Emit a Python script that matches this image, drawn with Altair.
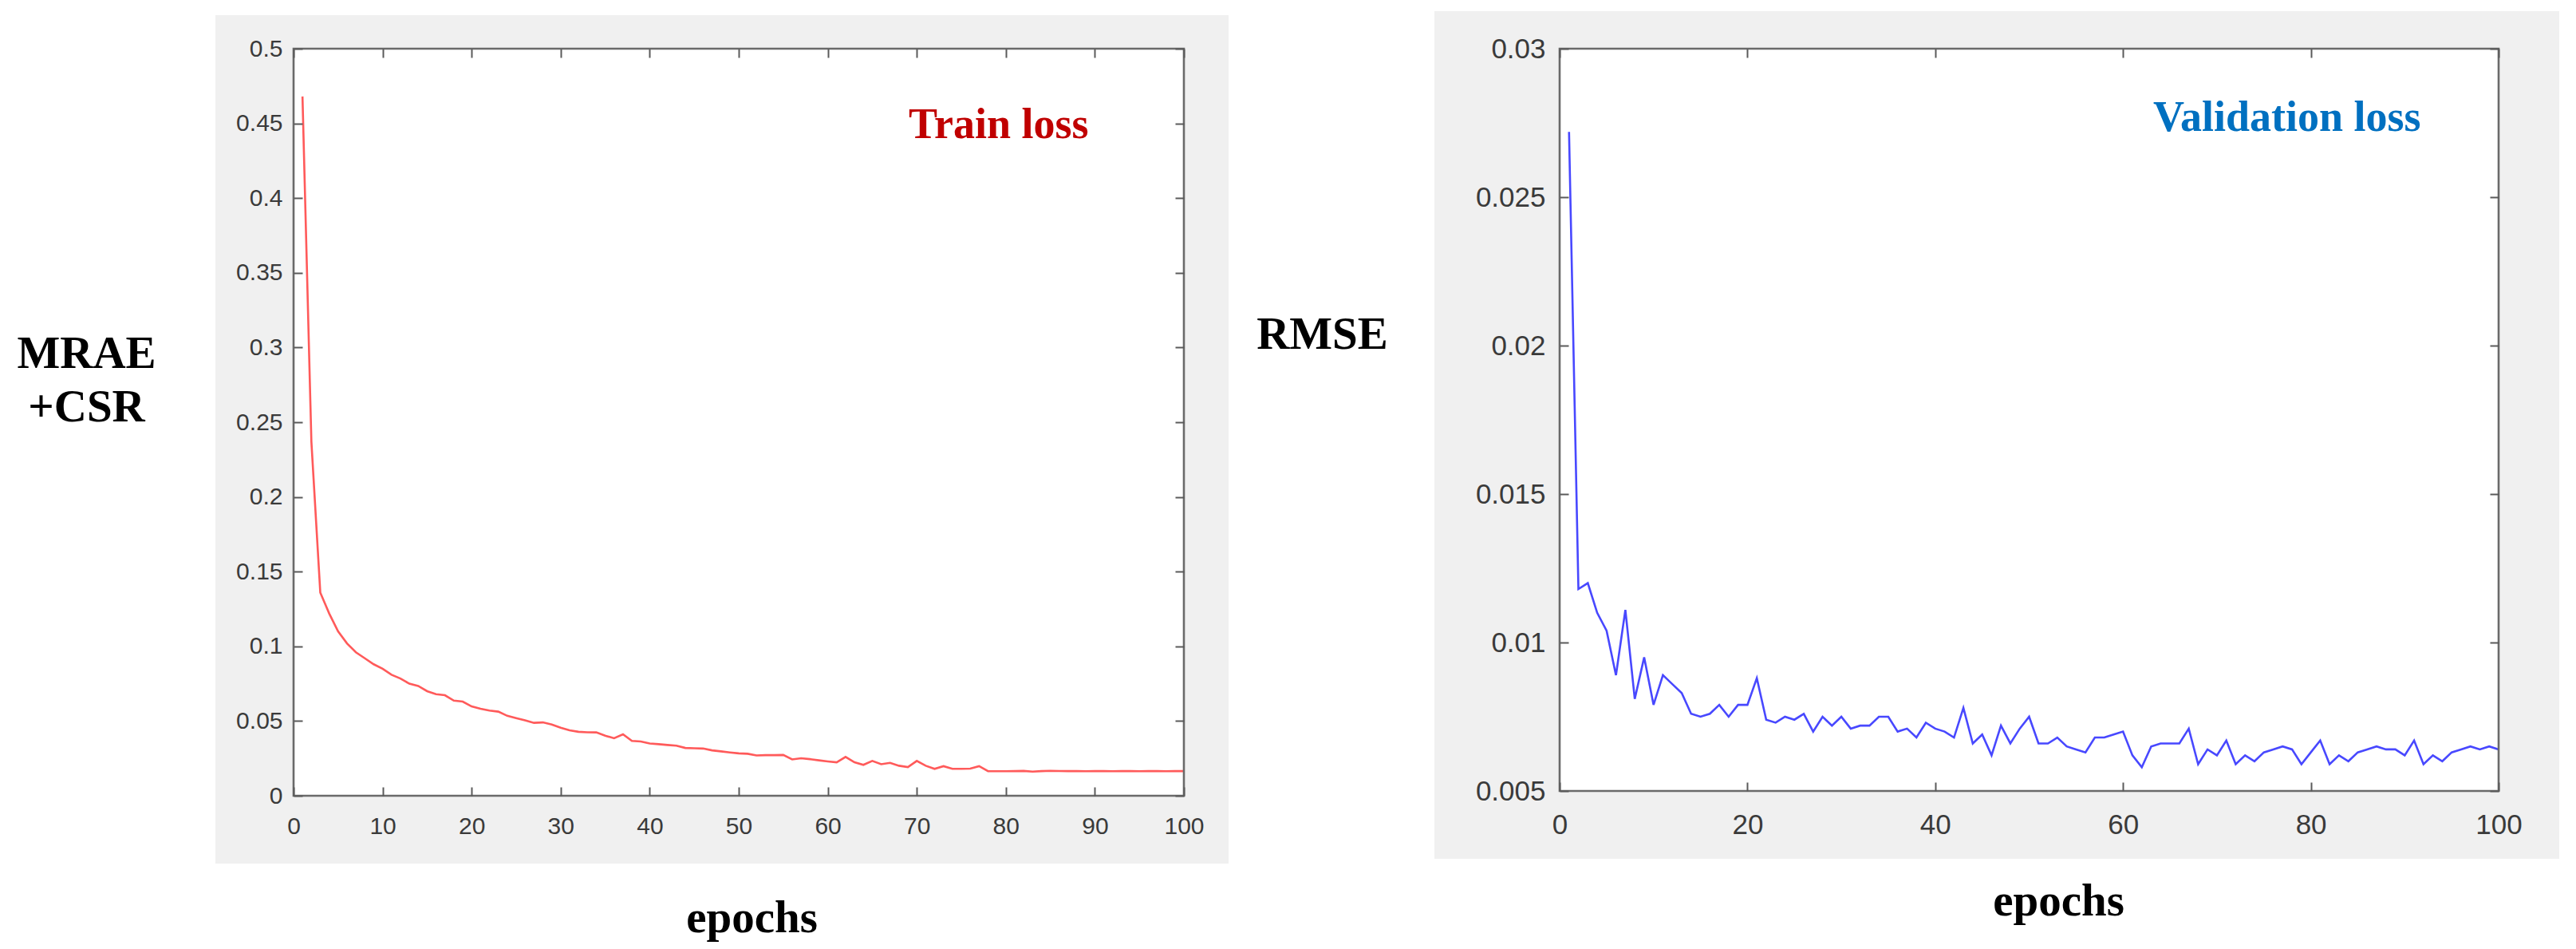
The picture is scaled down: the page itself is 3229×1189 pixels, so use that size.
import altair as alt
import pandas as pd

# ---------------- data ----------------
epochs = list(range(1, 101))

train_loss = [
    0.468, 0.237, 0.136, 0.122, 0.110, 0.102, 0.096, 0.092, 0.088, 0.085,
    0.081, 0.0785, 0.075, 0.0735, 0.070, 0.068, 0.0673, 0.0637, 0.063, 0.0598,
    0.0582, 0.057, 0.0563, 0.0535, 0.052, 0.0505, 0.0488, 0.0491, 0.0477, 0.0455,
    0.0438, 0.0428, 0.0425, 0.0424, 0.0402, 0.0385, 0.0411, 0.0367, 0.0363, 0.0350,
    0.0345, 0.0340, 0.0335, 0.0320, 0.0318, 0.0316, 0.0304, 0.0297, 0.0290, 0.0284,
    0.0281, 0.0270, 0.0272, 0.0272, 0.0273, 0.0243, 0.0251, 0.0245, 0.0237, 0.0230,
    0.0224, 0.0260, 0.0224, 0.0207, 0.0233, 0.0211, 0.0220, 0.0201, 0.0192, 0.0233,
    0.0201, 0.0180, 0.0198, 0.0180, 0.0180, 0.0182, 0.0198, 0.0165, 0.0164, 0.0164,
    0.0165, 0.0166, 0.0162, 0.0165, 0.0167, 0.0166, 0.0165, 0.0165, 0.0164, 0.0165,
    0.0165, 0.0164, 0.0165, 0.0165, 0.0164, 0.0165, 0.0165, 0.0164, 0.0165, 0.0165,
]

val_loss = [
    0.0272, 0.0118, 0.0120, 0.0110, 0.0104, 0.0089, 0.0111, 0.0081, 0.0095, 0.0079,
    0.0089, 0.0086, 0.0083, 0.0076, 0.0075, 0.0076, 0.0079, 0.0075, 0.0079, 0.0079,
    0.0088, 0.0074, 0.0073, 0.0075, 0.0074, 0.0076, 0.0070, 0.0075, 0.0072, 0.0075,
    0.0071, 0.0072, 0.0072, 0.0075, 0.0075, 0.0070, 0.0071, 0.0068, 0.0073, 0.0071,
    0.0070, 0.0068, 0.0078, 0.0066, 0.0069, 0.0062, 0.0072, 0.0066, 0.0071, 0.0075,
    0.0066, 0.0066, 0.0068, 0.0065, 0.0064, 0.0063, 0.0068, 0.0068, 0.0069, 0.0070,
    0.0062, 0.0058, 0.0065, 0.0066, 0.0066, 0.0066, 0.0071, 0.0059, 0.0064, 0.0062,
    0.0067, 0.0059, 0.0062, 0.0060, 0.0063, 0.0064, 0.0065, 0.0064, 0.0059, 0.0063,
    0.0067, 0.0059, 0.0062, 0.0060, 0.0063, 0.0064, 0.0065, 0.0064, 0.0064, 0.0062,
    0.0067, 0.0059, 0.0062, 0.0060, 0.0063, 0.0064, 0.0065, 0.0064, 0.0065, 0.0064,
]

left_x_ticks = [0, 10, 20, 30, 40, 50, 60, 70, 80, 90, 100]
left_y_ticks = [0, 0.05, 0.1, 0.15, 0.2, 0.25, 0.3, 0.35, 0.4, 0.45, 0.5]
right_x_ticks = [0, 20, 40, 60, 80, 100]
right_y_ticks = [0.005, 0.01, 0.015, 0.02, 0.025, 0.03]

left_y_title = ["MRAE", "+CSR"]
right_y_title = "RMSE"
x_title = "epochs"
left_note = "Train loss"
right_note = "Validation loss"

# ---------------- style ----------------
SERIF = "Liberation Serif"
SANS = "Liberation Sans"
PANEL = "#f0f0f0"
FRAME = "#6a6a6a"
TICK = "#5a5a5a"
LABEL = "#3a3a3a"

one_row = pd.DataFrame({"k": [0]})


def panel(df, ycol, line_color, w, h, xdom, ydom, xvals, yvals,
          label_fs, ylab_pad, xlab_pad, yfmt,
          ytitle, ytitle_x, ytitle_y, xtitle_x, xtitle_y,
          gray, note, note_color, note_x, note_y):
    gx1, gx2, gy1, gy2 = gray
    x_scale = alt.Scale(domain=xdom, nice=False, zero=False)
    y_scale = alt.Scale(domain=ydom, nice=False, zero=False)

    bg = alt.Chart(one_row).mark_rect(color=PANEL).encode(
        x=alt.value(gx1), x2=alt.value(gx2), y=alt.value(gy1), y2=alt.value(gy2))
    plot_bg = alt.Chart(one_row).mark_rect(color="white").encode(
        x=alt.value(0), x2=alt.value(w), y=alt.value(0), y2=alt.value(h))

    x_lab_axis = alt.Axis(
        orient="bottom", values=xvals, format="d", labels=True, ticks=False, tickSize=0,
        domain=False, grid=False, labelFont=SANS, labelFontSize=label_fs,
        labelColor=LABEL, labelPadding=xlab_pad, labelFlush=False, labelOverlap=False,
        zindex=1, title=x_title, titleFont=SERIF, titleFontSize=57,
        titleFontWeight="bold", titleColor="black", titleX=xtitle_x, titleY=xtitle_y,
        titleAlign="center", titleBaseline="alphabetic", titleAngle=0)
    y_lab_axis = alt.Axis(
        orient="left", values=yvals, format=yfmt, labels=True, ticks=False, tickSize=0,
        domain=False, grid=False, labelFont=SANS, labelFontSize=label_fs,
        labelColor=LABEL, labelPadding=ylab_pad, labelFlush=False, labelOverlap=False,
        zindex=1, title=ytitle, titleFont=SERIF, titleFontSize=57,
        titleFontWeight="bold", titleColor="black", titleX=ytitle_x, titleY=ytitle_y,
        titleAlign="center", titleBaseline="alphabetic", titleAngle=0,
        titleLineHeight=67)

    line = alt.Chart(df).mark_line(color=line_color, strokeWidth=2.6).encode(
        x=alt.X("epoch:Q", scale=x_scale, axis=x_lab_axis),
        y=alt.Y(f"{ycol}:Q", scale=y_scale, axis=y_lab_axis),
    )

    def tick_axis(orient, vals):
        return alt.Axis(orient=orient, values=vals, labels=False, ticks=True,
                        tickSize=11, tickWidth=2, tickColor=TICK, offset=-11,
                        domain=False, grid=False, zindex=1, title=None)

    ticks_bl = alt.Chart(df).mark_line(strokeOpacity=0).encode(
        x=alt.X("epoch:Q", scale=x_scale, axis=tick_axis("bottom", xvals)),
        y=alt.Y(f"{ycol}:Q", scale=y_scale, axis=tick_axis("left", yvals)),
    )
    ticks_tr = alt.Chart(df).mark_line(strokeOpacity=0).encode(
        x=alt.X("epoch:Q", scale=x_scale, axis=tick_axis("top", xvals)),
        y=alt.Y(f"{ycol}:Q", scale=y_scale, axis=tick_axis("right", yvals)),
    )

    frame = alt.Chart(one_row).mark_rect(fillOpacity=0, stroke=FRAME, strokeWidth=2.6).encode(
        x=alt.value(0), x2=alt.value(w), y=alt.value(0), y2=alt.value(h))

    txt = alt.Chart(one_row).mark_text(
        text=note, align="left", baseline="alphabetic", font=SERIF, fontSize=54,
        fontWeight="bold", color=note_color).encode(x=alt.value(note_x), y=alt.value(note_y))

    return alt.layer(bg, plot_bg, line, ticks_bl, ticks_tr, frame, txt).resolve_axis(
        x="independent", y="independent").properties(width=w, height=h)


train_df = pd.DataFrame({"epoch": epochs, "train": train_loss})
val_df = pd.DataFrame({"epoch": epochs, "val": val_loss})

left = panel(train_df, "train", "#ff5a5a", 1116, 936, [0, 100], [0, 0.5],
             left_x_ticks, left_y_ticks, 30, 14, 23, "~g",
             left_y_title, -260, 399, 574, 170,
             (-98, 1172, -42, 1021), left_note, "#c00000", 771, 112)

right = panel(val_df, "val", "#4848ff", 1177, 930, [0, 100], [0.005, 0.03],
              right_x_ticks, right_y_ticks, 35, 18, 25, "~g",
              right_y_title, -298, 375, 625, 155,
              (-157, 1253, -47, 1015), right_note, "#0070c0", 744, 103)

chart = alt.hconcat(left, right, spacing=34).properties(
    padding={"left": 12, "top": 6, "right": 5, "bottom": 5},
    background="white",
).configure_view(strokeWidth=0)

chart.save("out.html", embed_options={"renderer": "svg", "actions": False})
